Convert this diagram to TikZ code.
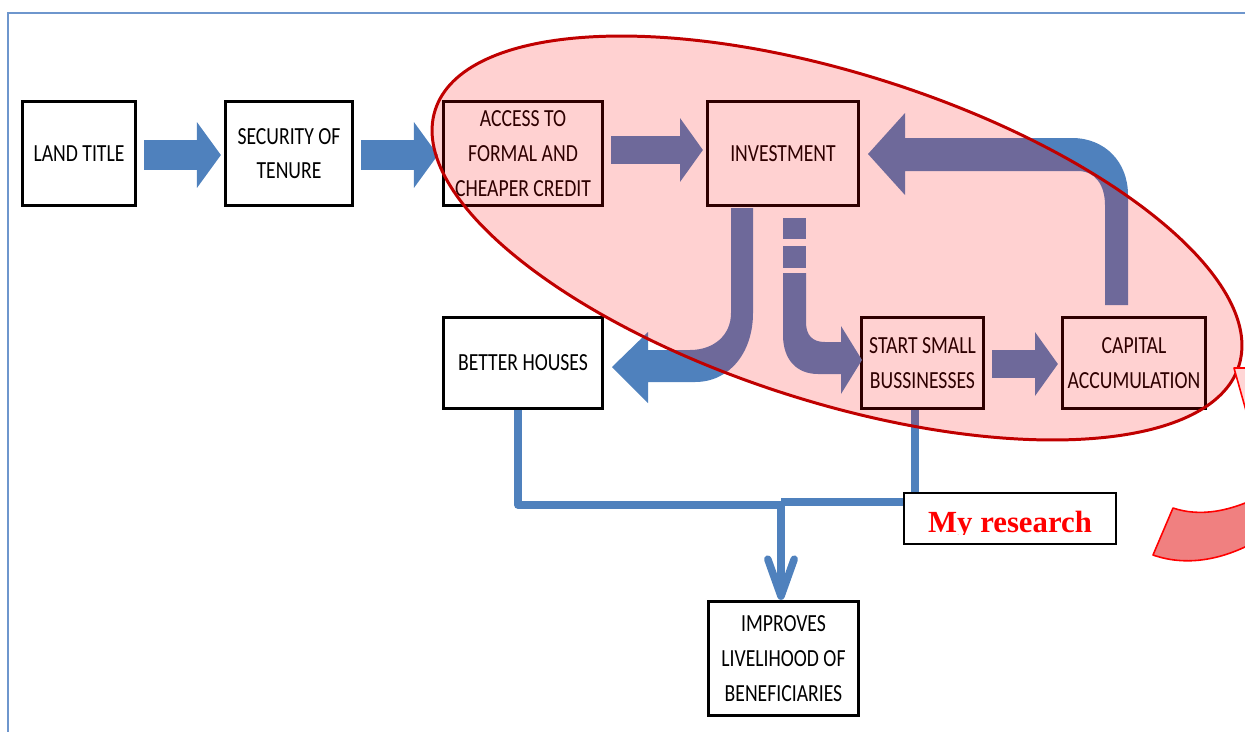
\documentclass[tikz,border=0pt]{standalone}
\usepackage{fontspec}
\setmainfont{Carlito}[FakeStretch=0.8]
\newfontfamily\notefont{Liberation Serif}
\usetikzlibrary{arrows.meta,calc}

\definecolor{arrowblue}{RGB}{79,129,189}
\definecolor{frameblue}{RGB}{110,150,205}
\definecolor{ovalred}{RGB}{192,0,0}
\definecolor{coralred}{RGB}{240,128,128}
\definecolor{headpink}{RGB}{255,214,214}

\begin{document}
\begin{tikzpicture}[x=0.02cm, y=-0.02cm,
  stepbox/.style={draw=black, line width=1.85pt, fill=white, align=center,
    inner sep=0pt, font=\fontsize{14pt}{19.8pt}\selectfont},
  notebox/.style={draw=black, line width=1.1pt, fill=white, inner sep=0pt},
  flowarrow/.style={draw=arrowblue, line width=#1},
  bentarrow/.style={fill=arrowblue},
  conn/.style={draw=arrowblue, line width=4.3pt, line join=round},
  oval/.style={draw=ovalred, line width=1.7pt, fill=red, fill opacity=0.18},
  curved/.style={fill=coralred, draw=red, line width=0.9pt, line join=round}]

\useasboundingbox (0,0) rectangle (1245,731);
\clip (0,0) rectangle (1245,731);

% page frame
\draw[frameblue, line width=0.9pt] (8,740) -- (8,13) -- (1260,13);

% boxes
\node[stepbox, minimum width=2.26cm, minimum height=2.08cm] (land)     at (79,153.5)   {LAND TITLE};
\node[stepbox, minimum width=2.54cm, minimum height=2.08cm] (security) at (289,153.5)  {SECURITY OF\\TENURE};
\node[stepbox, minimum width=3.18cm, minimum height=2.08cm] (access)   at (523,153.5)  {ACCESS TO\\FORMAL AND\\CHEAPER CREDIT};
\node[stepbox, minimum width=3.02cm, minimum height=2.08cm] (invest)   at (783,153.5)  {INVESTMENT};
\node[stepbox, minimum width=3.18cm, minimum height=1.82cm] (better)   at (523,363)    {BETTER HOUSES};
\node[stepbox, minimum width=2.44cm, minimum height=1.82cm] (start)    at (922.5,363)  {START SMALL\\BUSSINESSES};
\node[stepbox, minimum width=2.86cm, minimum height=1.82cm] (capital)  at (1134,363)   {CAPITAL\\ACCUMULATION};
\node[stepbox, minimum width=3.00cm, minimum height=2.28cm] (improves) at (783.5,658.5) {IMPROVES\\LIVELIHOOD OF\\BENEFICIARIES};

% straight block arrows
\draw[flowarrow=17.6pt, -{Triangle[width=37.4pt,length=13.6pt,line width=0pt]}]
  ($(land.east)+(7,1.5)$) -- ($(security.west)+(-3,1.5)$);
\draw[flowarrow=17.6pt, -{Triangle[width=37.4pt,length=13.6pt,line width=0pt]}]
  ($(security.east)+(7,1.5)$) -- ($(access.west)+(-4,1.5)$);
\draw[flowarrow=16.4pt, -{Triangle[width=36.3pt,length=13pt,line width=0pt]}]
  ($(access.east)+(7,-3.5)$) -- ($(invest.west)+(-3,-3.5)$);
\draw[flowarrow=15.9pt, -{Triangle[width=36.3pt,length=13pt,line width=0pt]}]
  ($(start.east)+(7,1)$) -- ($(capital.west)+(-3,1)$);

% investment -> better houses (J-shaped arrow)
\fill[bentarrow] (731,208) -- (753,208) -- (753,313)
  .. controls (753,352) and (730,382) .. (695,382) -- (648,382) -- (648,403)
  -- (612,367) -- (648,332) -- (648,350) -- (690,350)
  .. controls (714,350) and (731,335) .. (731,313) -- cycle;

% investment -> start small businesses (broken L-shaped arrow)
\fill[bentarrow] (783,218) rectangle (806,239);
\fill[bentarrow] (783,246) rectangle (806,268);
\fill[bentarrow] (783,273) -- (806,273) -- (806,322)
  .. controls (806,335) and (812,342) .. (825,342) -- (841,342) -- (841,326)
  -- (862,360) -- (841,394) -- (841,374) -- (818,374)
  .. controls (797,374) and (783,360) .. (783,335) -- cycle;

% capital accumulation -> investment (feedback arrow)
\fill[bentarrow] (905,138) -- (1072,138)
  .. controls (1105,138) and (1128,162) .. (1128,195) -- (1128,305) -- (1105,305)
  -- (1105,205) .. controls (1105,185) and (1095,171) .. (1078,171) -- (905,171)
  -- (905,195) -- (868,154) -- (905,113) -- cycle;

% connectors to the outcome box
\coordinate (joinA) at (781,505);
\coordinate (joinB) at (781,502);
\draw[conn] ($(better.south)+(-5,0)$) |- (joinA);
\draw[conn] ($(start.south)+(-7.5,0)$) |- (joinB);
\draw[conn, -{Straight Barb[length=21pt,width=15pt,round]}] (joinA) -- (joinA |- improves.north);

% research scope
\draw[oval] [shift={(837,238)}, rotate=-17.65] (0,0) ellipse [x radius=8.436cm, y radius=3.282cm];

\node[notebox, minimum width=4.24cm, minimum height=1.02cm] (research) at (1010,518.5) {};
\begin{scope}
  \clip (904,493) rectangle (1116,534);
  \node[anchor=base, text=red, inner sep=0pt,
    font=\notefont\bfseries\fontsize{17.5pt}{20pt}\selectfont] (researchtext) at (1010,532) {My research};
\end{scope}

% curved pointer at the right edge
\filldraw[curved] (1173,508) .. controls (1200,517) and (1230,512) .. (1265,494)
  -- (1265,536) .. controls (1230,558) and (1190,568) .. (1153,555) -- cycle;
\filldraw[curved, fill=headpink] (1234,368) -- (1265,368) -- (1252,432) -- cycle;

\end{tikzpicture}
\end{document}
